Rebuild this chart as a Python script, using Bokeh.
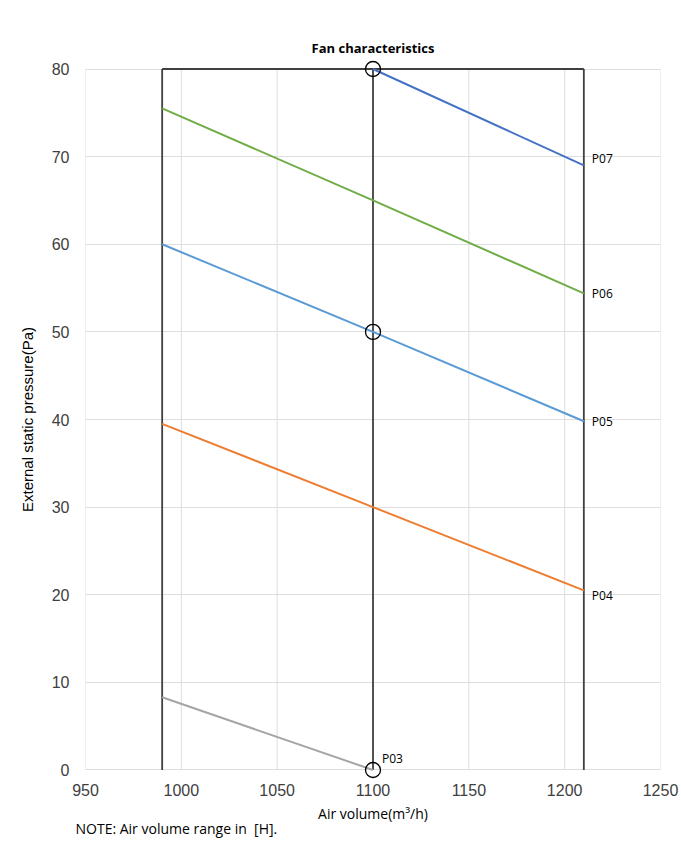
from bokeh.plotting import figure
from bokeh.models import Range1d, Label, FixedTicker, Title
from bokeh.embed import file_html
from bokeh.resources import INLINE

# ---- data ----
x_ticks = [950, 1000, 1050, 1100, 1150, 1200, 1250]
y_ticks = [0, 10, 20, 30, 40, 50, 60, 70, 80]

range_x = [990, 1100, 1210]          # air volume range bounds [H]
range_top = 80

series_names = ["P03", "P04", "P05", "P06", "P07"]
series_x = [
    [990, 1100],
    [990, 1100, 1210],
    [990, 1100, 1210],
    [990, 1100, 1210],
    [1100, 1210],
]
series_y = [
    [8.3, 0],
    [39.5, 30, 20.5],
    [60.0, 50, 39.8],
    [75.5, 65, 54.4],
    [80, 69.0],
]
series_colors = ["#A5A5A5", "#ED7D31", "#5B9BD5", "#70AD47", "#4472C4"]

marker_x = [1100, 1100, 1100]
marker_y = [80, 50, 0]

# ---- figure ----
p = figure(width=681, height=846, output_backend="svg", toolbar_location=None,
           x_range=Range1d(950, 1250), y_range=Range1d(-1.2, 81.2),
           min_border_left=85, min_border_right=21, min_border_top=58,
           min_border_bottom=66)
p.outline_line_color = None
p.background_fill_color = "white"
p.border_fill_color = "white"

p.title.text = "Fan characteristics"
p.title.align = "center"
p.title.text_font = "Open Sans"
p.title.text_font_size = "13px"
p.title.text_font_style = "bold"
p.title.text_color = "#000000"
p.title.standoff = 4

# grids
p.xgrid.visible = False
p.ygrid.ticker = FixedTicker(ticks=y_ticks)
p.ygrid.grid_line_color = "#dedede"
p.ygrid.grid_line_width = 1
p.segment(x0=x_ticks, y0=[0] * len(x_ticks), x1=x_ticks, y1=[80] * len(x_ticks),
          line_color="#dedede", line_width=1)

# axes
for ax in (p.xaxis[0], p.yaxis[0]):
    ax.axis_line_color = None
    ax.major_tick_line_color = None
    ax.minor_tick_line_color = None
    ax.major_label_text_font = "Liberation Sans"
    ax.major_label_text_font_size = "16px"
    ax.major_label_text_color = "#404040"

p.xaxis.ticker = FixedTicker(ticks=x_ticks)
p.yaxis.ticker = FixedTicker(ticks=y_ticks)
p.xaxis.major_label_standoff = -3
p.yaxis.major_label_standoff = 10

p.xaxis.axis_label = "Air volume(m\u00b3/h)"
p.xaxis.axis_label_text_font = "Open Sans"
p.xaxis.axis_label_text_font_size = "14px"
p.xaxis.axis_label_text_font_style = "normal"
p.xaxis.axis_label_text_color = "#000000"
p.xaxis.axis_label_standoff = 5

p.yaxis.axis_label = "External static pressure(Pa)"
p.yaxis.axis_label_text_font = "Liberation Sans"
p.yaxis.axis_label_text_font_size = "15px"
p.yaxis.axis_label_text_font_style = "normal"
p.yaxis.axis_label_text_color = "#000000"
p.yaxis.axis_label_standoff = 13

# note below the axis
note = Title(text="NOTE: Air volume range in\u00a0 [H].", align="left", offset=-10,
             text_font="Open Sans", text_font_size="14px", text_font_style="normal",
             text_color="#000000", standoff=-17)
p.add_layout(note, "below")

# range frame (vertical lines + top line)
p.segment(x0=range_x, y0=[0] * len(range_x), x1=range_x, y1=[range_top] * len(range_x),
          line_color="#404040", line_width=1.8)
p.segment(x0=[range_x[0]], y0=[range_top], x1=[range_x[-1]], y1=[range_top],
          line_color="#404040", line_width=1.8)

# series
for xs, ys, c in zip(series_x, series_y, series_colors):
    p.line(xs, ys, line_color=c, line_width=2)

# markers
p.scatter(marker_x, marker_y, marker="circle", size=15, fill_color=None,
          line_color="#000000", line_width=1.3)

# labels at series end points
label_dy = [11, -5, 0, 0, 7]
label_dx = [9, 8, 8, 8, 8]
for name, xs, ys, dx, dy in zip(series_names, series_x, series_y, label_dx, label_dy):
    p.add_layout(Label(x=xs[-1], y=ys[-1], text=name, x_offset=dx, y_offset=dy,
                       text_font="Open Sans", text_font_size="12px",
                       text_color="#000000", text_baseline="middle"))

open("out.html", "w").write(file_html(p, INLINE))
